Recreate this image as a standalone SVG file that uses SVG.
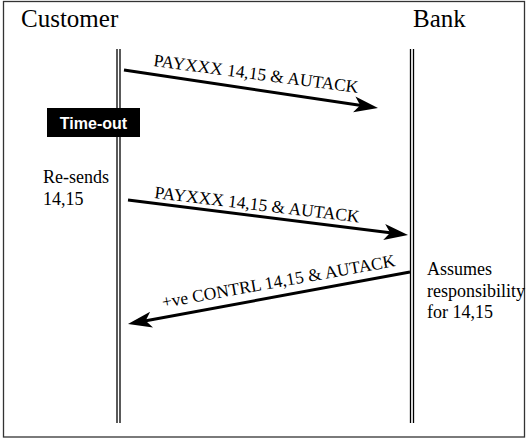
<svg xmlns="http://www.w3.org/2000/svg" width="528" height="441" viewBox="0 0 528 441">
  <style>
    .tx { font-family: 'Liberation Serif', 'Times New Roman', 'DejaVu Serif', serif; fill: #000; }
    .title { font-size: 25px; }
    .note { font-size: 18px; }
    .msg { font-size: 17.5px; }
    .life { stroke: #000; stroke-width: 1.3; fill: none; }
    .arrow { stroke: #000; stroke-width: 3; fill: none; marker-end: url(#head); }
    .tobox { fill: #000; }
    .totext { font-family: 'Liberation Sans', Arial, sans-serif; font-weight: bold; font-size: 16px; fill: #fff; }
  </style>
  <defs>
    <marker id="head" markerUnits="userSpaceOnUse" markerWidth="26" markerHeight="18" viewBox="0 -9 26 18" refX="14" refY="0" orient="auto">
      <path d="M24,0 L0,-8 L6,0 L0,8 Z" fill="#000"/>
    </marker>
  </defs>
  <rect x="3.5" y="1.5" width="521" height="435.5" fill="#fff" stroke="#333" stroke-width="1.3"/>

  <g id="customer">
    <text class="tx title" font-family="Liberation Serif, serif" x="21" y="27">Customer</text>
    <line class="life" x1="117" y1="49" x2="117" y2="423"/>
    <line class="life" x1="120" y1="49" x2="120" y2="423"/>
  </g>
  <g id="bank">
    <text class="tx title" font-family="Liberation Serif, serif" x="413" y="27">Bank</text>
    <line class="life" x1="410.5" y1="49" x2="410.5" y2="423"/>
    <line class="life" x1="413.5" y1="49" x2="413.5" y2="423"/>
  </g>
  <g id="timeout">
    <rect class="tobox" x="47" y="108" width="93" height="29"/>
    <text class="totext" x="93.5" y="129" text-anchor="middle">Time-out</text>
  </g>
  <g id="resends">
    <text class="tx note" x="43" y="183">Re-sends</text>
    <text class="tx note" x="43" y="205">14,15</text>
  </g>
  <g id="assumes">
    <text class="tx note" x="427" y="275">Assumes</text>
    <text class="tx note" x="427" y="297">responsibility</text>
    <text class="tx note" x="427" y="318">for 14,15</text>
  </g>

  <g id="connectors">
    <line class="arrow" x1="124" y1="70" x2="368.1" y2="106.5"/>
    <text class="tx msg" x="153" y="66" transform="rotate(7.5 153 66)">PAYXXX 14,15 &amp; AUTACK</text>
    <line class="arrow" x1="128" y1="200" x2="398.1" y2="233.8"/>
    <text class="tx msg" x="154" y="198" transform="rotate(6.8 154 198)">PAYXXX 14,15 &amp; AUTACK</text>
    <line class="arrow" x1="410" y1="272" x2="137.8" y2="322.2"/>
    <text class="tx msg" x="163" y="308" transform="rotate(-10.2 163 308)">+ve CONTRL 14,15 &amp; AUTACK</text>
  </g>
</svg>
